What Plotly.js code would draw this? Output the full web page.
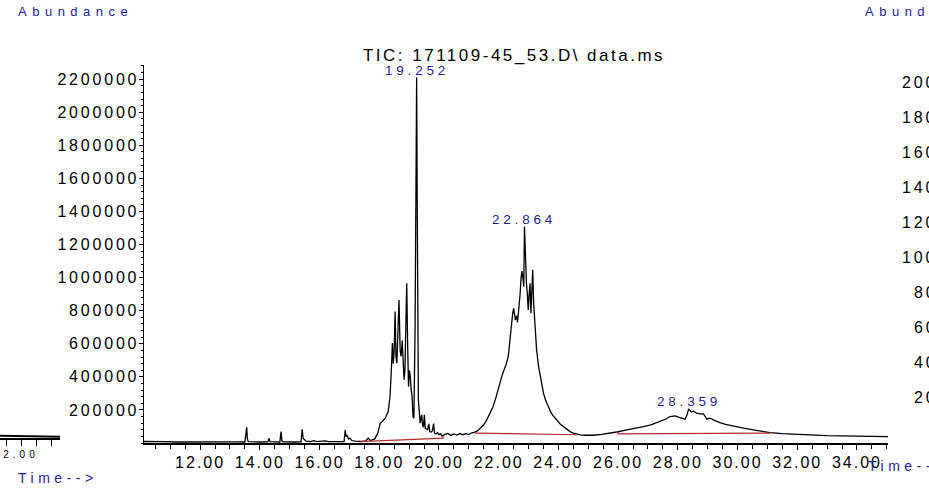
<!DOCTYPE html>
<html>
<head>
<meta charset="utf-8">
<script src="https://cdn.plot.ly/plotly-3.0.1.min.js"></script>
<style>
html, body { margin: 0; padding: 0; background: #ffffff; }
#chart { width: 929px; height: 489px; }
g.xtick text { letter-spacing: 2px; }
g.ytick text { letter-spacing: 2.8px; }
g.x2tick text { letter-spacing: 4px; }
text.gtitle { letter-spacing: 2.5px; }
text.annotation-text[style*="font-size: 13px"] { letter-spacing: 5.5px; }
text.annotation-text[style*="font-size: 13.5px"] { letter-spacing: 3.8px; }
text.annotation-text[style*="font-size: 14px"] { letter-spacing: 4.5px; }
text.annotation-text[style*="font-size: 16px"] { letter-spacing: 2.8px; }
</style>
</head>
<body>
<div id="chart"></div>
<script>
// ---- Chromatogram (TIC) ----
const ticTime = [
  10.12,10.4,10.8,11.2,11.6,12.0,12.4,12.8,13.2,13.5,
  13.54,13.56,13.58,13.61,14.0,14.27,14.31,14.34,14.67,14.71,
  14.74,14.78,15.2,15.38,15.42,15.45,15.5,15.55,15.7,15.82,
  15.9,16.1,16.19,16.3,16.6,16.82,16.86,16.89,16.93,16.97,
  17.02,17.08,17.2,17.4,17.55,17.63,17.7,17.85,17.95,18.03,
  18.1,18.2,18.3,18.36,18.4,18.44,18.47,18.5,18.53,18.56,
  18.59,18.62,18.66,18.7,18.73,18.77,18.8,18.83,18.86,18.89,
  18.92,18.95,18.98,19.01,19.04,19.07,19.1,19.13,19.16,19.2,
  19.23,19.252,19.27,19.29,19.31,19.34,19.37,19.4,19.42,19.45,
  19.48,19.51,19.54,19.58,19.62,19.66,19.69,19.73,19.78,19.82,
  19.85,19.9,19.95,20.0,20.05,20.1,20.15,20.2,20.3,20.4,
  20.5,20.6,20.7,20.8,20.9,21.0,21.1,21.2,21.3,21.4,
  21.5,21.6,21.7,21.8,21.9,22.0,22.05,22.1,22.16,22.24,
  22.32,22.36,22.4,22.44,22.47,22.5,22.53,22.56,22.6,22.63,
  22.66,22.7,22.72,22.75,22.78,22.81,22.84,22.864,22.89,22.93,
  22.96,22.99,23.02,23.05,23.08,23.11,23.14,23.17,23.2,23.24,
  23.27,23.33,23.39,23.45,23.5,23.58,23.66,23.75,23.82,23.89,
  23.98,24.06,24.17,24.28,24.39,24.5,24.6,24.73,24.9,25.17,
  25.45,25.73,26.0,26.29,26.57,26.85,27.1,27.4,27.6,27.74,
  27.91,28.05,28.15,28.24,28.31,28.359,28.4,28.45,28.52,28.63,
  28.75,28.86,28.92,28.97,29.05,29.12,29.19,29.3,29.41,29.6,
  29.8,29.97,30.2,30.53,30.8,31.09,31.5,31.87,32.4,32.99,
  33.5,34.1,34.6,35.04
];
const ticAbund = [
  9000,7000,8000,6000,7000,6000,7000,6000,7000,6000,
  55000,95000,30000,8000,6000,7000,29000,8000,6000,69000,
  12000,7000,6000,7000,83000,28000,20000,11000,8000,14000,
  8000,9000,13000,8000,7000,9000,78000,38000,45000,24000,
  30000,15000,11000,9000,13000,30000,15000,25000,60000,118000,
  130000,150000,190000,281000,420000,604000,480000,560000,795000,520000,
  483000,700000,865000,560000,523000,620000,470000,382000,442000,700000,
  966000,600000,341000,440000,400000,321000,280000,160000,150000,700000,
  1600000,2210000,1500000,650000,260000,190000,120000,150000,170000,110000,
  95000,170000,90000,85000,80000,116000,70000,65000,75000,118000,
  60000,55000,62000,50000,56000,42000,48000,52000,58000,46000,
  55000,48000,57000,50000,56000,52000,62000,66000,75000,90000,
  110000,140000,175000,215000,270000,340000,371000,400000,432000,470000,
  523000,600000,680000,760000,785000,815000,760000,744000,770000,730000,
  786000,850000,906000,1000000,1040000,1000000,946000,1309000,1150000,968000,
  900000,805000,900000,966000,785000,900000,1047000,850000,744000,650000,
  563000,470000,402000,345000,301000,255000,220000,185000,165000,150000,
  128000,115000,99000,82000,69000,60000,55000,49000,47000,47000,
  52000,59000,68000,79000,88000,99000,110000,129000,145000,160000,
  164000,155000,150000,144000,170000,204000,198000,188000,192000,180000,
  176000,176000,160000,144000,150000,148000,140000,130000,123000,113000,
  104000,99000,90000,79000,70000,63000,57000,53000,48000,45000,
  43000,41000,40000,39000
];

// integration baselines (red)
const baseTime  = [17.36, 20.14, 20.14, null, 21.2, 24.66, null, 26.0, 26.0, 31.09];
const baseAbund = [8000, 29000, 45000, null, 60000, 50000, null, 68000, 55000, 60000];

// labelled peaks
const peakTimes   = [19.252, 22.864, 28.359];
const peakHeights = [2210000, 1309000, 204000];
const peakLabels  = ['19.252', '22.864', '28.359'];

// axis ticks
const xTickVals = [12, 14, 16, 18, 20, 22, 24, 26, 28, 30, 32, 34];
const xTickText = ['12.00','14.00','16.00','18.00','20.00','22.00','24.00','26.00','28.00','30.00','32.00','34.00'];
const yTickVals = [200000, 400000, 600000, 800000, 1000000, 1200000, 1400000, 1600000, 1800000, 2000000, 2200000];
const yTickText = ['200000','400000','600000','800000','1000000','1200000','1400000','1600000','1800000','2000000','2200000'];

// neighbouring panels cut off at the page edges
const rightAxisVals = [2000000, 1800000, 1600000, 1400000, 1200000, 1000000, 800000, 600000, 400000, 200000];
const rightAxisText = ['2000000','1800000','1600000','1400000','1200000','1000000','800000','600000','400000','200000'];
const fragTime  = [1.3, 1.8, 2.4, 2.9, 3.3];
const fragAbund = [14000, 13000, 11000, 9000, 7000];
const fragTickVals = [2];
const fragTickText = ['2.00'];

const FONT = '"Liberation Sans", Arial, sans-serif';
const BLUE = '#1e1e96';
const W = 929, H = 489;

const traces = [
  { x: ticTime, y: ticAbund, type: 'scatter', mode: 'lines', xaxis: 'x', yaxis: 'y',
    line: { color: '#000000', width: 1.3 }, hoverinfo: 'skip', showlegend: false },
  { x: baseTime, y: baseAbund, type: 'scatter', mode: 'lines', xaxis: 'x', yaxis: 'y',
    line: { color: '#b22a2a', width: 1.2 }, connectgaps: false, hoverinfo: 'skip', showlegend: false },
  { x: fragTime, y: fragAbund, type: 'scatter', mode: 'lines', xaxis: 'x2', yaxis: 'y3',
    line: { color: '#000000', width: 2 }, hoverinfo: 'skip', showlegend: false, cliponaxis: false }
];

const annotations = [];
peakTimes.forEach((t, i) => {
  annotations.push({ x: t, y: peakHeights[i], xref: 'x', yref: 'y', text: peakLabels[i],
    showarrow: false, xanchor: 'center', yanchor: 'bottom', yshift: -2,
    font: { family: FONT, size: 13.5, color: BLUE } });
});
annotations.push({ x: 16 / W, y: 1 - 12 / H, xref: 'paper', yref: 'paper', text: 'Abundance',
  showarrow: false, xanchor: 'left', yanchor: 'middle', font: { family: FONT, size: 13, color: BLUE } });
annotations.push({ x: 863 / W, y: 1 - 12 / H, xref: 'paper', yref: 'paper', text: 'Abundance',
  showarrow: false, xanchor: 'left', yanchor: 'middle', font: { family: FONT, size: 13, color: BLUE } });
annotations.push({ x: 16 / W, y: 1 - 478 / H, xref: 'paper', yref: 'paper', text: 'Time-->',
  showarrow: false, xanchor: 'left', yanchor: 'middle', font: { family: FONT, size: 14, color: BLUE } });
annotations.push({ x: 866 / W, y: 1 - 466 / H, xref: 'paper', yref: 'paper', text: 'Time-->',
  showarrow: false, xanchor: 'left', yanchor: 'middle', font: { family: FONT, size: 14, color: BLUE } });
rightAxisVals.forEach((v, i) => {
  annotations.push({ x: 986 / W, y: v, xref: 'paper', yref: 'y2', text: rightAxisText[i],
    showarrow: false, xanchor: 'right', yanchor: 'middle', font: { family: FONT, size: 16, color: '#000000' } });
});

const layout = {
  width: W, height: H, autosize: false,
  margin: { l: 0, r: 0, t: 0, b: 0, pad: 0 },
  paper_bgcolor: '#ffffff', plot_bgcolor: 'rgba(0,0,0,0)',
  font: { family: FONT, color: '#000000' },
  showlegend: false,
  title: { text: 'TIC: 171109-45_53.D\\ data.ms', x: 514 / W, xref: 'container', xanchor: 'center',
    y: 1 - 55 / H, yref: 'container', yanchor: 'middle', font: { family: FONT, size: 17, color: '#000000' } },
  xaxis: {
    domain: [144 / W, 888 / W], range: [10.12, 35.04], anchor: 'y',
    showline: true, linecolor: '#000000', linewidth: 1.5, showgrid: false, zeroline: false,
    ticks: 'outside', ticklen: 5, tickwidth: 1, tickcolor: '#000000', tickangle: 0,
    tickmode: 'array', tickvals: xTickVals, ticktext: xTickText,
    tickfont: { family: FONT, size: 16, color: '#000000' }, ticklabelstandoff: -1,
    minor: { tickmode: 'linear', tick0: 10, dtick: 0.5, ticks: 'outside', ticklen: 4, tickcolor: '#000000', showgrid: false },
    fixedrange: true
  },
  yaxis: {
    domain: [1 - 443 / H, 1 - 65 / H], range: [0, 2286000], anchor: 'x',
    showline: true, linecolor: '#000000', linewidth: 1.5, showgrid: false, zeroline: false,
    ticks: 'outside', ticklen: 4, tickwidth: 1, tickcolor: '#000000',
    tickmode: 'array', tickvals: yTickVals, ticktext: yTickText,
    tickfont: { family: FONT, size: 16, color: '#000000' }, ticklabelstandoff: -4,
    minor: { tickmode: 'linear', tick0: 0, dtick: 40000, ticks: 'outside', ticklen: 2, tickcolor: '#000000', showgrid: false },
    fixedrange: true
  },
  yaxis2: { overlaying: 'y', range: [-57000, 2097000], visible: false, fixedrange: true },
  xaxis2: {
    domain: [0, 60 / W], range: [1.3, 3.3], anchor: 'y3',
    showline: true, linecolor: '#000000', linewidth: 1.5, showgrid: false, zeroline: false,
    ticks: 'outside', ticklen: 6, tickwidth: 1, tickcolor: '#000000', tickangle: 0,
    tickmode: 'array', tickvals: fragTickVals, ticktext: fragTickText,
    tickfont: { family: FONT, size: 10, color: '#000000' },
    minor: { tickmode: 'linear', tick0: 2, dtick: 0.5, ticks: 'outside', ticklen: 6, tickcolor: '#000000', showgrid: false },
    fixedrange: true
  },
  yaxis3: { domain: [1 - 438 / H, 1 - 65 / H], range: [0, 2256000], anchor: 'x2', visible: false, fixedrange: true },
  annotations: annotations
};

Plotly.newPlot('chart', traces, layout, { staticPlot: true, displayModeBar: false });
</script>
</body>
</html>
